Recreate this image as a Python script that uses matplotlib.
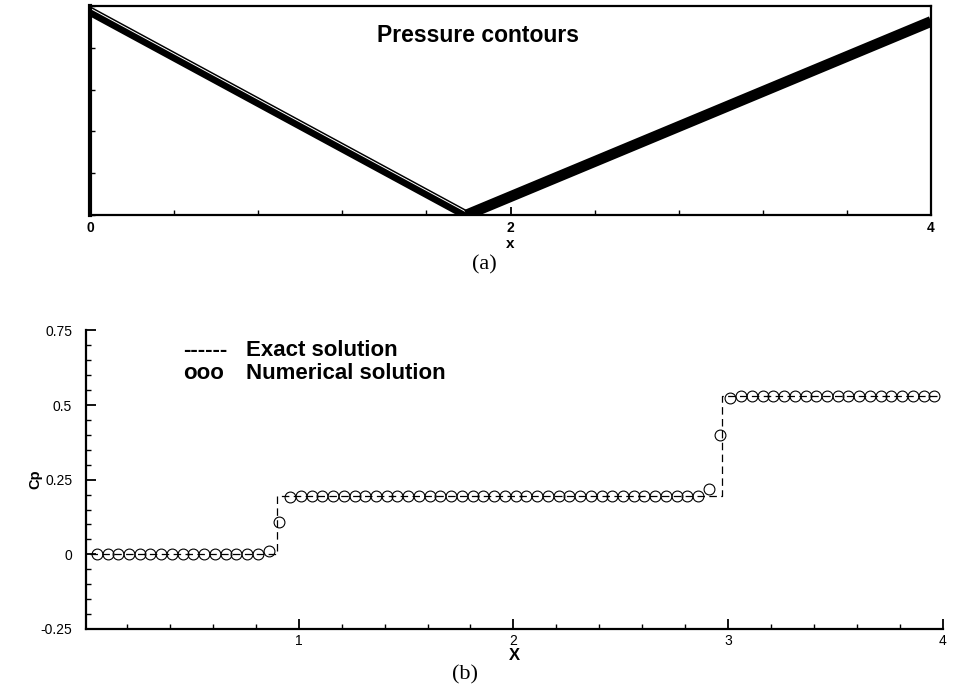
import numpy as np
import matplotlib
matplotlib.use("Agg")
import matplotlib.pyplot as plt
import matplotlib.transforms as mtransforms
from matplotlib.ticker import MultipleLocator, FuncFormatter

# ─── Data ─────────────────────────────────────────────────────────────────────
# (a) shock positions in the channel (pressure contour bands)
incident_x = [0.0, 1.79]
incident_y = [0.975, 0.0]
reflected_x = [1.79, 4.0]
reflected_y = [0.0, 0.926]

# (b) exact Cp along the lower wall (step profile)
exact_x = [0.03, 0.90, 0.90, 2.97, 2.97, 3.99]
exact_cp = [0.0, 0.0, 0.195, 0.195, 0.530, 0.530]

# (b) numerical Cp at cell centres
num_x = [0.06, 0.11, 0.16, 0.21, 0.26, 0.31, 0.36, 0.41, 0.46, 0.51,
         0.56, 0.61, 0.66, 0.71, 0.76, 0.81, 0.86, 0.91, 0.96, 1.01,
         1.06, 1.11, 1.16, 1.21, 1.26, 1.31, 1.36, 1.41, 1.46, 1.51,
         1.56, 1.61, 1.66, 1.71, 1.76, 1.81, 1.86, 1.91, 1.96, 2.01,
         2.06, 2.11, 2.16, 2.21, 2.26, 2.31, 2.36, 2.41, 2.46, 2.51,
         2.56, 2.61, 2.66, 2.71, 2.76, 2.81, 2.86, 2.91, 2.96, 3.01,
         3.06, 3.11, 3.16, 3.21, 3.26, 3.31, 3.36, 3.41, 3.46, 3.51,
         3.56, 3.61, 3.66, 3.71, 3.76, 3.81, 3.86, 3.91, 3.96]
num_cp = [0.0, 0.0, 0.0, 0.0, 0.0, 0.0, 0.0, 0.0, 0.0, 0.0,
          0.0, 0.0, 0.0, 0.0, 0.0, 0.0, 0.010, 0.108, 0.192, 0.195,
          0.195, 0.195, 0.195, 0.195, 0.195, 0.195, 0.195, 0.195, 0.195, 0.195,
          0.195, 0.195, 0.195, 0.195, 0.195, 0.195, 0.195, 0.195, 0.195, 0.195,
          0.195, 0.195, 0.195, 0.195, 0.195, 0.195, 0.195, 0.195, 0.195, 0.195,
          0.195, 0.195, 0.195, 0.195, 0.195, 0.195, 0.196, 0.218, 0.400, 0.524,
          0.530, 0.530, 0.530, 0.530, 0.530, 0.530, 0.530, 0.530, 0.530, 0.530,
          0.530, 0.530, 0.530, 0.530, 0.530, 0.530, 0.530, 0.530, 0.530]

# ─── Style ────────────────────────────────────────────────────────────────────
plt.rcParams.update({
    "font.family": ["Liberation Sans", "DejaVu Sans"],
    "axes.linewidth": 1.6,
    "xtick.direction": "in",
    "ytick.direction": "in",
})
SERIF = ["Liberation Serif", "DejaVu Serif"]

fig = plt.figure(figsize=(9.56, 6.96), dpi=100)

# ── Panel (a): pressure contours ─────────────────────────────────────────────
ax1 = fig.add_axes([0.0941, 0.6911, 0.8798, 0.3003])
ax1.set_xlim(0, 4)
ax1.set_ylim(0, 1)
ax1.plot(incident_x, incident_y, color="black", lw=6.6, solid_capstyle="butt")
off = mtransforms.offset_copy(ax1.transData, fig=fig, x=1.2, y=2.3, units="dots")
ax1.plot(incident_x, incident_y, color="white", lw=0.7, transform=off)
ax1.plot(reflected_x, reflected_y, color="black", lw=7.8, solid_capstyle="butt")
ax1.spines["left"].set_linewidth(3.0)

ax1.xaxis.set_major_locator(MultipleLocator(2))
ax1.xaxis.set_minor_locator(MultipleLocator(0.4))
ax1.yaxis.set_major_locator(MultipleLocator(0.2))
ax1.yaxis.set_major_formatter(plt.NullFormatter())
ax1.tick_params(axis="x", which="major", length=6, width=1.3, pad=4,
                labelsize=10)
ax1.tick_params(axis="x", which="minor", length=3.5, width=1.0)
ax1.tick_params(axis="y", which="major", length=3.5, width=1.0)
for lab in ax1.get_xticklabels():
    lab.set_fontweight("bold")
ax1.set_xlabel("x", fontsize=11, fontweight="bold", labelpad=2)
ax1.text(0.461, 0.86, "Pressure contours", transform=ax1.transAxes,
         fontsize=16.5, fontweight="bold", ha="center", va="center")
fig.text(0.507, 0.619, "(a)", family=SERIF, fontsize=16, ha="center", va="center")

# ── Panel (b): Cp along the wall ─────────────────────────────────────────────
ax2 = fig.add_axes([0.0900, 0.0963, 0.8964, 0.4290])
ax2.plot(exact_x, exact_cp, color="black", lw=0.9, ls=(0, (6, 3.5)))
ax2.plot(num_x, num_cp, ls="none", marker="o", ms=7.8, mfc="none",
         mec="black", mew=0.8)
ax2.set_xlim(0.01, 4.0)
ax2.set_ylim(-0.25, 0.75)
for side in ("top", "right"):
    ax2.spines[side].set_visible(False)

ax2.xaxis.set_major_locator(MultipleLocator(1))
ax2.xaxis.set_minor_locator(MultipleLocator(0.2))
ax2.yaxis.set_major_locator(MultipleLocator(0.25))
ax2.yaxis.set_minor_locator(MultipleLocator(0.05))
ax2.yaxis.set_major_formatter(FuncFormatter(lambda v, p: f"{v:g}"))
ax2.tick_params(which="major", length=7, width=1.3, labelsize=10)
ax2.tick_params(which="minor", length=3.5, width=1.0)
ax2.tick_params(axis="y", which="major", pad=10)
ax2.set_xlabel("X", fontsize=12, fontweight="bold", labelpad=0)
ax2.set_ylabel("Cp", fontsize=10.5, fontweight="bold")
ax2.yaxis.set_label_coords(-0.051, 0.5)

# hand-made legend, as in the original
ax2.text(0.113, 0.934, "------", transform=ax2.transAxes, fontsize=16,
         fontweight="bold", va="center")
ax2.text(0.187, 0.934, "Exact solution", transform=ax2.transAxes, fontsize=16,
         fontweight="bold", va="center")
ax2.text(0.113, 0.855, "ooo", transform=ax2.transAxes, fontsize=16,
         fontweight="bold", va="center")
ax2.text(0.187, 0.855, "Numerical solution", transform=ax2.transAxes,
         fontsize=16, fontweight="bold", va="center")
fig.text(0.486, 0.030, "(b)", family=SERIF, fontsize=16, ha="center",
         va="center")

fig.savefig("out.png", dpi=100, facecolor="white")
plt.close(fig)
